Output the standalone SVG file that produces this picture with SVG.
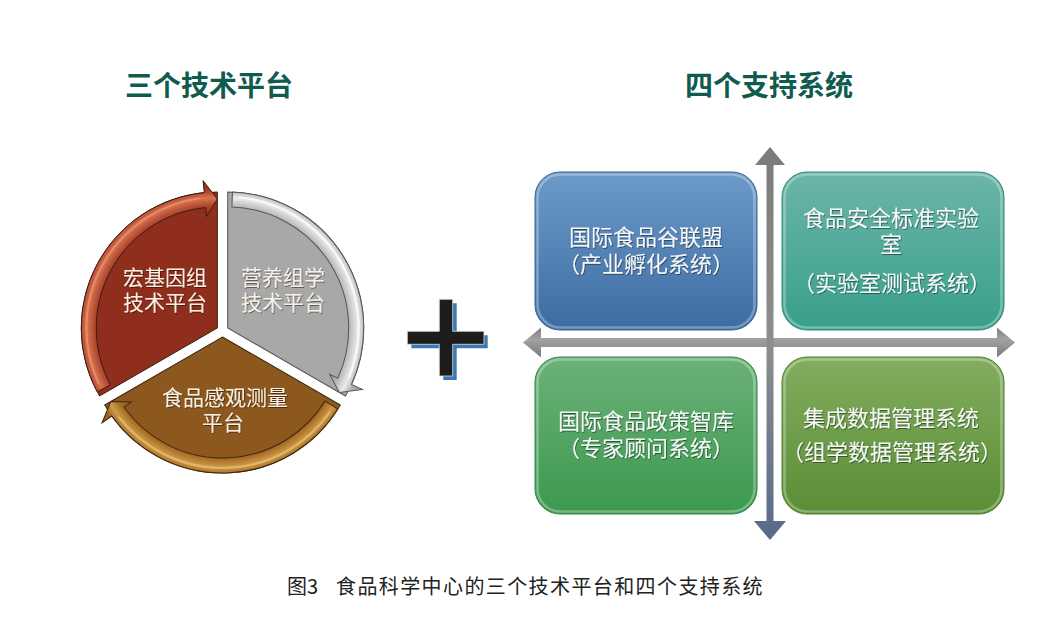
<svg xmlns="http://www.w3.org/2000/svg" width="1064" height="622" viewBox="0 0 1064 622">
<defs>
<style>
text{font-family:"Noto Sans CJK SC","Noto Sans",sans-serif}
.h{font-size:28px;font-weight:bold;fill:#0f5b4f;text-anchor:middle}
.ct{font-size:21px;fill:#f7efe4;text-anchor:middle;filter:url(#ts)}
.bt{font-size:22px;fill:#f5f7f8;text-anchor:middle;filter:url(#ts)}
.cap{font-size:20px;fill:#222}
.box{stroke-width:1}
.bev{fill:none;stroke:#ffffff;stroke-opacity:0.3;stroke-width:2.5}
.hl{fill:none;stroke-width:2.2;stroke-linecap:round}
</style>
<filter id="ts" x="-10%" y="-20%" width="120%" height="150%">
<feDropShadow dx="0.8" dy="1" stdDeviation="0.6" flood-color="#000" flood-opacity="0.45"/>
</filter>
<path id="wedge" d="M0,0 L-117.78,68 A136,136 0 0 1 0,-136 Z"/>
<path id="rib" d="M-120.08,63.85 A136,136 0 0 1 -13.04,-135.37 L-14.19,-147.32 L0,-129 L-10.73,-111.48 L-11.60,-120.44 A121,121 0 0 0 -106.84,56.81 Z"/>
<path id="hlp" d="M-118.73,55.36 A131,131 0 0 1 -18.23,-129.72"/>
<radialGradient id="gR" gradientUnits="userSpaceOnUse" cx="0" cy="0" r="150">
<stop offset="0.74" stop-color="#92301c"/>
<stop offset="0.81" stop-color="#a8412a"/>
<stop offset="0.87" stop-color="#d8734f"/>
<stop offset="0.92" stop-color="#a63c24"/>
<stop offset="1" stop-color="#8a2c1a"/>
</radialGradient>
<radialGradient id="gG" gradientUnits="userSpaceOnUse" cx="0" cy="0" r="150">
<stop offset="0.74" stop-color="#9a9a9a"/>
<stop offset="0.81" stop-color="#b8b8b8"/>
<stop offset="0.87" stop-color="#ececec"/>
<stop offset="0.92" stop-color="#b0b0b0"/>
<stop offset="1" stop-color="#959595"/>
</radialGradient>
<radialGradient id="gB" gradientUnits="userSpaceOnUse" cx="0" cy="0" r="150">
<stop offset="0.74" stop-color="#8a561a"/>
<stop offset="0.81" stop-color="#a06822"/>
<stop offset="0.87" stop-color="#cf9a48"/>
<stop offset="0.92" stop-color="#9e6520"/>
<stop offset="1" stop-color="#85531a"/>
</radialGradient>
<linearGradient id="bBlue" x1="0" y1="0" x2="0" y2="1">
<stop offset="0" stop-color="#6c9ac9"/><stop offset="1" stop-color="#3d6ca2"/>
</linearGradient>
<linearGradient id="bTeal" x1="0" y1="0" x2="0" y2="1">
<stop offset="0" stop-color="#6cb5a9"/><stop offset="1" stop-color="#399f8b"/>
</linearGradient>
<linearGradient id="bGreen" x1="0" y1="0" x2="0" y2="1">
<stop offset="0" stop-color="#6cb178"/><stop offset="1" stop-color="#3b994f"/>
</linearGradient>
<linearGradient id="bOlive" x1="0" y1="0" x2="0" y2="1">
<stop offset="0" stop-color="#83ad5f"/><stop offset="1" stop-color="#5a8e35"/>
</linearGradient>
<linearGradient id="axV" x1="0" y1="147" x2="0" y2="540" gradientUnits="userSpaceOnUse">
<stop offset="0" stop-color="#7b7b7b"/><stop offset="0.5" stop-color="#8e8e8e"/><stop offset="1" stop-color="#56698c"/>
</linearGradient>
<linearGradient id="axH" x1="0" y1="327" x2="0" y2="358" gradientUnits="userSpaceOnUse">
<stop offset="0" stop-color="#7e7e7e"/><stop offset="0.4" stop-color="#a2a2a2"/><stop offset="1" stop-color="#7a7a7a"/>
</linearGradient>
</defs>

<rect width="1064" height="622" fill="#ffffff"/>

<g id="titles">
<text class="h" x="209" y="96">三个技术平台</text>
<text class="h" x="769" y="96">四个支持系统</text>
</g>

<g id="seg-red">
<g transform="translate(217.3,328)">
<use href="#wedge" fill="#8f2e1c" stroke="#3a1c12" stroke-width="1"/>
<use href="#rib" fill="url(#gR)" stroke="#3a1c12" stroke-width="1"/>
<use href="#hlp" class="hl" stroke="#f0a080" stroke-opacity="0.55"/>
</g>
<text class="ct" x="165" y="285">宏基因组</text>
<text class="ct" x="165" y="310">技术平台</text>
</g>

<g id="seg-gray">
<g transform="translate(227.7,328) rotate(120)">
<use href="#wedge" fill="#a8a8a8" stroke="#555555" stroke-width="1"/>
<use href="#rib" fill="url(#gG)" stroke="#555555" stroke-width="1"/>
<use href="#hlp" class="hl" stroke="#ffffff" stroke-opacity="0.7"/>
</g>
<text class="ct" x="283" y="285">营养组学</text>
<text class="ct" x="283" y="310">技术平台</text>
</g>

<g id="seg-brown">
<g transform="translate(222.5,337) rotate(240)">
<use href="#wedge" fill="#8c581d" stroke="#3e2810" stroke-width="1"/>
<use href="#rib" fill="url(#gB)" stroke="#3e2810" stroke-width="1"/>
<use href="#hlp" class="hl" stroke="#f2cf85" stroke-opacity="0.55"/>
</g>
<text class="ct" x="225" y="405">食品感观测量</text>
<text class="ct" x="223" y="430">平台</text>
</g>

<g id="plus">
<path d="M443.3,303.3h13.4v32h31v13h-31v31.7h-13.4v-31.7h-32v-13h32z" fill="#3b78b5"/>
<path d="M439.3,299.3h13.4v32h31.3v13h-31.3v31.7h-13.4v-31.7h-32v-13h32z" fill="#1d1d1d" stroke="#e0e0e0" stroke-width="0.8"/>
</g>

<g id="connectors">
<path d="M523,342.5 L541,327.5 L541,338 L997,338 L997,327.5 L1015,342.5 L997,357.5 L997,347 L541,347 L541,357.5 Z" fill="url(#axH)"/>
<path d="M770,147 L785,165 L773.5,165 L773.5,521 L786,521 L770,540 L754,521 L766.5,521 L766.5,165 L755,165 Z" fill="url(#axV)"/>
</g>

<g id="box-tl">
<rect x="535" y="172" width="222" height="158" rx="25" fill="url(#bBlue)" stroke="#3a6595" class="box"/>
<rect x="537.5" y="174.5" width="217" height="153" rx="23" class="bev"/>
<text class="bt" x="646" y="245">国际食品谷联盟</text>
<text class="bt" x="646" y="272">（产业孵化系统）</text>
</g>

<g id="box-tr">
<rect x="782" y="172" width="222" height="158" rx="25" fill="url(#bTeal)" stroke="#2f8c79" class="box"/>
<rect x="784.5" y="174.5" width="217" height="153" rx="23" class="bev"/>
<text class="bt" x="891" y="226">食品安全标准实验</text>
<text class="bt" x="891" y="252">室</text>
<text class="bt" x="892" y="291">（实验室测试系统）</text>
</g>

<g id="box-bl">
<rect x="535" y="357" width="222" height="157" rx="25" fill="url(#bGreen)" stroke="#338845" class="box"/>
<rect x="537.5" y="359.5" width="217" height="152" rx="23" class="bev"/>
<text class="bt" x="646" y="429">国际食品政策智库</text>
<text class="bt" x="646" y="456">（专家顾问系统）</text>
</g>

<g id="box-br">
<rect x="782" y="357" width="222" height="157" rx="25" fill="url(#bOlive)" stroke="#4f7e2e" class="box"/>
<rect x="784.5" y="359.5" width="217" height="152" rx="23" class="bev"/>
<text class="bt" x="891" y="426">集成数据管理系统</text>
<text class="bt" x="892" y="460">（组学数据管理系统）</text>
</g>

<g id="caption">
<text class="cap" x="287" y="594">图3</text>
<text class="cap" x="336" y="594" letter-spacing="1.4">食品科学中心的三个技术平台和四个支持系统</text>
</g>
</svg>
